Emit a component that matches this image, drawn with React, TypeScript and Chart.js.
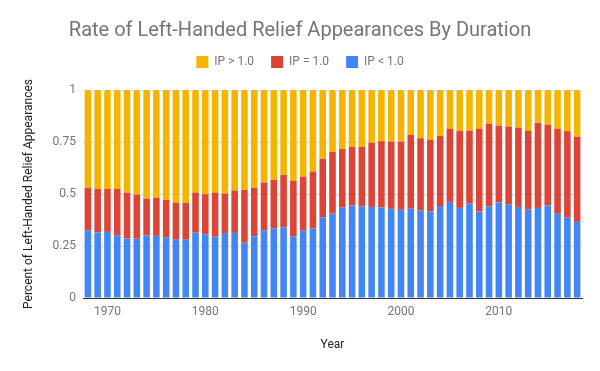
import { useEffect, useRef } from 'react';
import { Chart, registerables } from 'chart.js';

Chart.register(...registerables);

const years = [
  1968, 1969, 1970, 1971, 1972, 1973, 1974, 1975, 1976, 1977,
  1978, 1979, 1980, 1981, 1982, 1983, 1984, 1985, 1986, 1987,
  1988, 1989, 1990, 1991, 1992, 1993, 1994, 1995, 1996, 1997,
  1998, 1999, 2000, 2001, 2002, 2003, 2004, 2005, 2006, 2007,
  2008, 2009, 2010, 2011, 2012, 2013, 2014, 2015, 2016, 2017, 2018,
];

// IP < 1.0 (blue, bottom)
const ipLess = [
  0.324, 0.315, 0.318, 0.302, 0.286, 0.285, 0.301, 0.299, 0.292, 0.283,
  0.280, 0.314, 0.305, 0.295, 0.312, 0.313, 0.266, 0.296, 0.324, 0.335,
  0.339, 0.296, 0.324, 0.334, 0.388, 0.406, 0.435, 0.445, 0.440, 0.438,
  0.435, 0.429, 0.424, 0.429, 0.421, 0.416, 0.442, 0.462, 0.433, 0.453,
  0.416, 0.440, 0.459, 0.449, 0.438, 0.425, 0.433, 0.445, 0.405, 0.387, 0.366,
];

// IP = 1.0 (red, middle)
const ipEqual = [
  0.206, 0.209, 0.206, 0.222, 0.221, 0.212, 0.177, 0.182, 0.180, 0.174,
  0.178, 0.193, 0.194, 0.212, 0.190, 0.204, 0.254, 0.234, 0.231, 0.233,
  0.253, 0.268, 0.260, 0.274, 0.281, 0.296, 0.282, 0.281, 0.286, 0.308,
  0.319, 0.323, 0.328, 0.355, 0.347, 0.344, 0.337, 0.351, 0.372, 0.352,
  0.397, 0.397, 0.370, 0.375, 0.381, 0.378, 0.409, 0.387, 0.408, 0.415, 0.410,
];

// IP > 1.0 (yellow, top)
const ipGreater = [
  0.470, 0.476, 0.476, 0.476, 0.493, 0.503, 0.522, 0.519, 0.528, 0.543,
  0.542, 0.493, 0.501, 0.493, 0.498, 0.483, 0.480, 0.470, 0.445, 0.432,
  0.408, 0.436, 0.416, 0.392, 0.331, 0.298, 0.283, 0.274, 0.274, 0.254,
  0.246, 0.248, 0.248, 0.216, 0.232, 0.240, 0.221, 0.187, 0.195, 0.195,
  0.187, 0.163, 0.171, 0.176, 0.181, 0.197, 0.158, 0.168, 0.187, 0.198, 0.224,
];

const yTicks = [0, 0.25, 0.5, 0.75, 1];

const FONT = 'Roboto, "Noto Sans", Arial, sans-serif';

export default function App() {
  const canvasRef = useRef<HTMLCanvasElement | null>(null);

  useEffect(() => {
    document.body.style.margin = '0';
    const canvas = canvasRef.current;
    if (!canvas) return;

    const legendSpacer = {
      id: 'legendSpacer',
      beforeInit(chart: any) {
        const legend = chart.legend;
        if (!legend) return;
        const origFit = legend.fit;
        legend.fit = function () {
          origFit.call(this);
          this.height += 12;
        };
      },
    };

    const chart = new Chart(canvas, {
      type: 'bar',
      data: {
        labels: years.map(String),
        datasets: [
          {
            label: 'IP < 1.0',
            data: ipLess,
            backgroundColor: '#4285F4',
            borderWidth: 0,
          },
          {
            label: 'IP = 1.0',
            data: ipEqual,
            backgroundColor: '#DB4437',
            borderWidth: 0,
          },
          {
            label: 'IP > 1.0',
            data: ipGreater,
            backgroundColor: '#F4B400',
            borderWidth: 0,
            borderRadius: { topLeft: 2, topRight: 2, bottomLeft: 0, bottomRight: 0 },
            borderSkipped: 'start',
          },
        ],
      },
      plugins: [legendSpacer],
      options: {
        animation: false,
        responsive: true,
        maintainAspectRatio: false,
        layout: { padding: { left: 18, right: 18, top: 0, bottom: 0 } },
        datasets: {
          bar: { barPercentage: 0.67, categoryPercentage: 1 },
        },
        plugins: {
          title: {
            display: true,
            text: 'Rate of Left-Handed Relief Appearances By Duration',
            color: '#757575',
            font: { family: FONT, size: 20, weight: 'normal', lineHeight: 1.2 },
            padding: { top: 19, bottom: -4 },
          },
          legend: {
            display: true,
            position: 'top',
            reverse: true,
            labels: {
              boxWidth: 12,
              boxHeight: 12,
              padding: 17,
              color: '#757575',
              font: { family: FONT, size: 12 },
            },
          },
          tooltip: { enabled: false },
        },
        scales: {
          x: {
            stacked: true,
            grid: { display: false, drawTicks: false },
            border: { display: true, color: '#333333', width: 1 },
            ticks: {
              autoSkip: false,
              maxRotation: 0,
              minRotation: 0,
              padding: 7,
              color: '#757575',
              font: { family: FONT, size: 12 },
              callback: (_v: any, idx: number) =>
                years[idx] % 10 === 0 ? String(years[idx]) : '',
            },
            title: {
              display: true,
              text: 'Year',
              color: '#222222',
              font: { family: FONT, size: 12 },
              padding: { top: 0, bottom: 19 },
            },
            afterFit: (scale: any) => {
              scale.height = 73;
            },
          },
          y: {
            stacked: true,
            min: 0,
            max: 1,
            afterBuildTicks: (scale: any) => {
              scale.ticks = yTicks.map((v) => ({ value: v }));
            },
            grid: { color: '#d9d9d9', drawTicks: false },
            border: { display: false },
            ticks: {
              padding: 7,
              color: '#757575',
              font: { family: FONT, size: 12 },
              callback: (v: any) => String(v),
            },
            title: {
              display: true,
              text: 'Percent of Left-Handed Relief Appearances',
              color: '#222222',
              font: { family: FONT, size: 12 },
              padding: { top: 4, bottom: 0 },
            },
            afterFit: (scale: any) => {
              scale.width = 65;
            },
          },
        },
      },
    });

    return () => {
      chart.destroy();
    };
  }, []);

  return (
    <div style={{ position: 'relative', width: 600, height: 371 }}>
      <canvas ref={canvasRef} />
    </div>
  );
}
